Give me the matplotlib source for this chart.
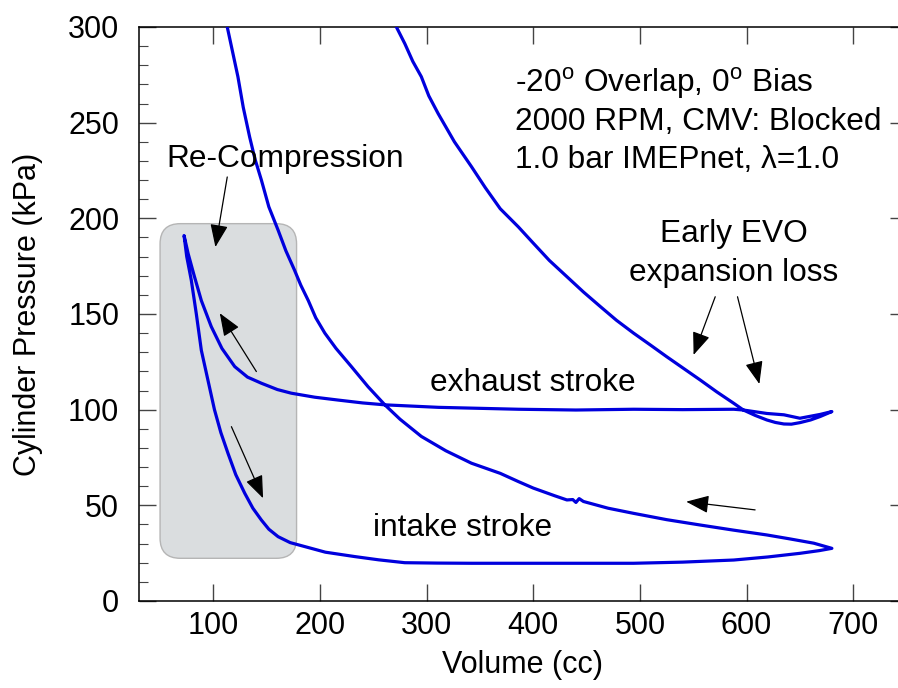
import matplotlib
matplotlib.use('Agg')
from matplotlib import pyplot as plt
from matplotlib.patches import FancyBboxPatch
from matplotlib.ticker import MultipleLocator

plt.rcParams['font.family'] = ['Liberation Sans', 'DejaVu Sans']
plt.rcParams['mathtext.fontset'] = 'custom'
plt.rcParams['mathtext.rm'] = 'Liberation Sans'

FS = 22      # ticks / axis labels
FS_NOTE = 22.8  # annotations

# p-V loop, gas exchange part (volume in cc, pressure in kPa)
# expansion -> exhaust -> re-compression peak -> re-expansion -> intake -> compression
vol_expansion = [271.6, 279.5, 287, 295, 302, 310.8, 326, 342, 355, 369, 386, 400, 415,
                 431.5, 447, 463, 478, 494, 510, 525, 541, 556.5, 572, 588, 597, 608,
                 619, 627, 635, 642, 650, 660, 669, 680]
p_expansion = [300, 291.3, 282, 274, 264, 254.7, 240, 227, 216, 205, 195.5, 187, 178,
               169.5, 161.5, 153.8, 146.7, 140, 133.7, 127.7, 121.5, 115.5, 109.3, 103.3,
               99.8, 97, 94.6, 93.3, 92.5, 92.4, 93.2, 94.6, 96.4, 99]

vol_exhaust = [669, 650, 635, 619, 597, 588, 540, 494, 440, 386, 311, 261, 240, 217, 195,
               173, 160, 145, 132, 120, 108, 98, 88.7, 82, 76.3, 72.5]
p_exhaust = [97.5, 95.5, 97.3, 98, 99.8, 100.2, 100, 100.2, 99.8, 100.2, 101.2, 102.5,
             103.5, 105, 106.5, 108.6, 110.5, 113.8, 117, 122.5, 132, 143.4, 157, 170,
             181.6, 191]

vol_intake = [75, 79.3, 84, 88.7, 95, 101, 107, 113.8, 121, 129.4, 137, 145, 152, 160.7,
              172, 185.7, 205, 232.6, 255, 279.5, 310, 342, 386, 440, 494, 540, 588, 620,
              650, 668, 680]
p_intake = [180, 167.6, 150, 131, 115, 100, 88, 77, 66, 56.3, 48.5, 42.3, 37.5, 33.6,
            30.5, 28.4, 25.5, 23.2, 21.5, 20, 19.8, 19.7, 19.7, 19.7, 19.7, 20.3, 21.4, 23,
            24.9, 26.3, 27.5]

vol_compression = [663, 640, 619, 588, 556.5, 525, 494, 470, 447, 443, 440, 437, 431.5,
                   420, 400, 386, 369, 342, 318, 295, 275, 260.8, 245, 229.4, 215, 204.5,
                   196, 189, 182, 176, 168, 160.7, 152, 145, 139, 134, 128, 123, 118, 113]
p_compression = [30.2, 32.5, 34.5, 37, 39.7, 42.5, 45.8, 48.5, 52, 53.5, 51.5, 53, 52.8,
                 55, 59, 62.4, 66.7, 72, 78.5, 86, 95, 102.5, 112, 122.5, 132, 140,
                 148, 157, 165, 173, 183, 193.8, 206, 220, 231, 242.5, 258, 274, 287, 300]

volume = vol_expansion + vol_exhaust + vol_intake + vol_compression
pressure = p_expansion + p_exhaust + p_intake + p_compression

fig = plt.figure(figsize=(8.98, 6.88), dpi=100)
ax = fig.add_axes([0.1545, 0.1265, 0.855, 0.8343])

# shaded re-compression region
box = FancyBboxPatch((50, 22.3), 128, 174.9,
                     boxstyle='round,pad=0,rounding_size=19',
                     mutation_aspect=0.557,
                     facecolor='#dadddf', edgecolor='#b5b5b5', lw=1.0, zorder=1)
ax.add_patch(box)

ax.plot(volume, pressure, color='#0000dd', lw=2.3, zorder=3)

ax.set_xlim(30, 750)
ax.set_ylim(0, 300)
ax.yaxis.set_major_locator(MultipleLocator(50))
ax.yaxis.set_minor_locator(MultipleLocator(10))
ax.set_xticks([100, 200, 300, 400, 500, 600, 700])

ax.tick_params(which='both', direction='in', top=True, right=True,
               labelsize=FS, color='#444444')
ax.tick_params(which='major', length=12, width=1.0)
ax.tick_params(which='minor', length=6.5, width=0.8)
ax.tick_params(axis='y', pad=14)
ax.tick_params(axis='x', pad=7)
for s in ax.spines.values():
    s.set_linewidth(1.1)

ax.set_xlabel('Volume (cc)', fontsize=FS, labelpad=7)
ax.set_ylabel('Cylinder Pressure (kPa)', fontsize=FS, labelpad=18)

# condition text
ax.text(383, 270.8, r'-20$^{\mathrm{o}}$ Overlap, 0$^{\mathrm{o}}$ Bias', fontsize=FS_NOTE, va='center')
ax.text(383, 250.4, '2000 RPM, CMV: Blocked', fontsize=FS_NOTE, va='center')
ax.text(383, 230.5, '1.0 bar IMEPnet, λ=1.0', fontsize=FS_NOTE, va='center')

ax.text(400, 114, 'exhaust stroke', fontsize=FS_NOTE, ha='center', va='center')
ax.text(333.6, 38.2, 'intake stroke', fontsize=FS_NOTE, ha='center', va='center')
ax.text(167.5, 231, 'Re-Compression', fontsize=FS_NOTE, ha='center', va='center')
ax.text(587.8, 192, 'Early EVO', fontsize=FS_NOTE, ha='center', va='center')
ax.text(587.8, 171.3, 'expansion loss', fontsize=FS_NOTE, ha='center', va='center')

arrow = dict(arrowstyle='-|>,head_length=1.4,head_width=0.55', color='black', lw=0.9,
             shrinkA=0, shrinkB=0)
# (tip, tail)
arrows = [((101.9, 185), (113, 221.6)),
          ((106, 150.4), (140.3, 119.9)),
          ((146.6, 53.7), (116.9, 91.1)),
          ((550.3, 128.6), (570.6, 159)),
          ((612, 113.4), (591.5, 159)),
          ((543.4, 51.9), (608, 47.6))]
for tip, tail in arrows:
    ax.annotate('', xy=tip, xytext=tail, arrowprops=arrow, zorder=4)

fig.savefig('out.png', dpi=100)
